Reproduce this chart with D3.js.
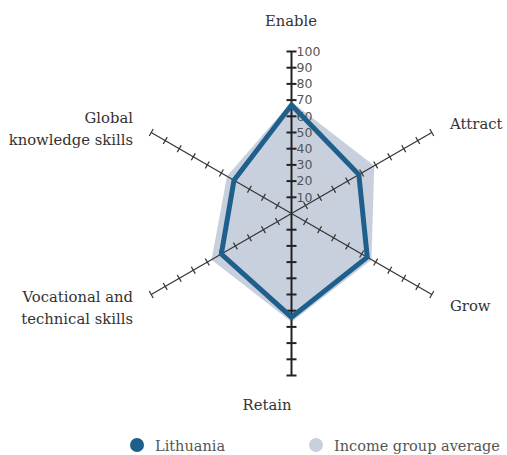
<!DOCTYPE html>
<html>
<head>
<meta charset="utf-8">
<script src="https://cdn.jsdelivr.net/npm/d3@7"></script>
<style>
  body { margin: 0; background: #fff; }
  svg { display: block; }
</style>
</head>
<body>
<svg width="507" height="455"></svg>
<script>
// donnees
var axes = ["Enable", "Attract", "Grow", "Retain", "Vocational and technical skills", "Global knowledge skills"];
var lithuania = [67, 48, 54, 64, 50, 41];
var incomeAvg = [69, 59, 57, 67, 57, 46];
var tickValues = [10, 20, 30, 40, 50, 60, 70, 80, 90, 100];
var seriesNames = ["Lithuania", "Income group average"];

var svg = d3.select("svg");
var cx = 291.5, cy = 213.5;

var r = d3.scaleLinear().domain([0, 100]).range([0, 162]);
var angle = d3.scaleLinear().domain([0, axes.length]).range([0, 2 * Math.PI]);

function pt(i, v) {
  var a = angle(i);
  return [Math.sin(a) * r(v), -Math.cos(a) * r(v)];
}

var g = svg.append("g").attr("transform", "translate(" + cx + "," + cy + ")");

// zone moyenne du groupe
var line = d3.line().curve(d3.curveLinearClosed);
g.append("path")
  .attr("d", line(incomeAvg.map(function(v, i) { return pt(i, v); })))
  .attr("fill", "#c9d0dd")
  .attr("stroke", "none");

// axes
axes.forEach(function(name, i) {
  var a = angle(i);
  var end = pt(i, 100);
  var vertical = (i === 0 || i === 3);
  g.append("line")
    .attr("x1", 0).attr("y1", 0)
    .attr("x2", end[0]).attr("y2", end[1])
    .attr("stroke", vertical ? "#222" : "#333")
    .attr("stroke-width", vertical ? 2 : 1.2);
  tickValues.forEach(function(t) {
    var p = pt(i, t);
    var len = vertical ? 5 : 4;
    var dx = Math.cos(a) * len, dy = Math.sin(a) * len;
    g.append("line")
      .attr("x1", p[0] - dx).attr("y1", p[1] - dy)
      .attr("x2", p[0] + dx).attr("y2", p[1] + dy)
      .attr("stroke", vertical ? "#222" : "#333")
      .attr("stroke-width", vertical ? 2 : 1.2);
  });
});

// etiquettes sur Enable
g.selectAll(".tlab")
  .data(tickValues)
  .enter()
  .append("text")
  .attr("class", "tlab")
  .attr("x", 5)
  .attr("y", function(d) { return -r(d); })
  .attr("dy", "0.35em")
  .attr("font-family", "DejaVu Sans, sans-serif")
  .attr("font-size", 12.5)
  .attr("fill", "#555")
  .text(function(d) { return d; });

// Lithuania
g.append("path")
  .attr("d", line(lithuania.map(function(v, i) { return pt(i, v); })))
  .attr("fill", "none")
  .attr("stroke", "#1f5f8b")
  .attr("stroke-width", 5)
  .attr("stroke-linejoin", "miter");

// noms des axes
var labels = [
  { lines: ["Enable"], x: 291, y: 26, anchor: "middle" },
  { lines: ["Attract"], x: 450, y: 129, anchor: "start" },
  { lines: ["Grow"], x: 450, y: 311, anchor: "start" },
  { lines: ["Retain"], x: 267, y: 410, anchor: "middle" },
  { lines: ["Vocational and", "technical skills"], x: 133, y: 302, anchor: "end" },
  { lines: ["Global", "knowledge skills"], x: 133, y: 123, anchor: "end" }
];
labels.forEach(function(l) {
  var t = svg.append("text")
    .attr("x", l.x).attr("y", l.y)
    .attr("text-anchor", l.anchor)
    .attr("font-family", "DejaVu Serif, serif")
    .attr("font-size", 14.8)
    .attr("fill", "#333");
  l.lines.forEach(function(s, k) {
    t.append("tspan").attr("x", l.x).attr("dy", k === 0 ? 0 : 22).text(s);
  });
});

// legende
var legendX = [137, 316];
var legendCol = ["#1f5f8b", "#c9d0dd"];
seriesNames.forEach(function(n, i) {
  svg.append("circle").attr("cx", legendX[i]).attr("cy", 445).attr("r", 7).attr("fill", legendCol[i]);
  svg.append("text")
    .attr("x", legendX[i] + 18).attr("y", 451)
    .attr("font-family", "DejaVu Serif, serif")
    .attr("font-size", 14.5)
    .attr("fill", "#555")
    .text(n);
});
</script>
</body>
</html>
